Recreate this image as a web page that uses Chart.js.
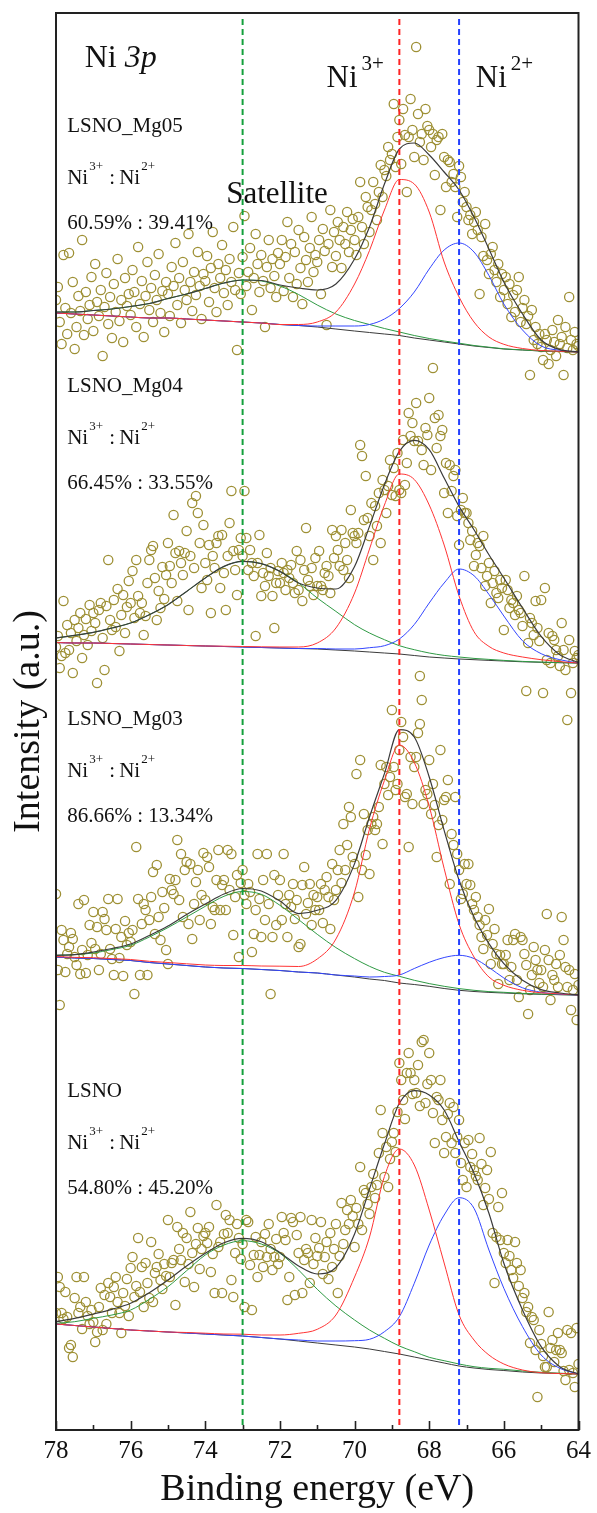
<!DOCTYPE html>
<html lang="en">
<head>
<meta charset="utf-8"/>
<title>Ni 3p XPS</title>
<script src="https://cdn.jsdelivr.net/npm/chart.js"></script>
<style>
  body { margin: 0; background: #fff; }
  canvas { display: block; }
</style>
</head>
<body>
<canvas id="chart" width="597" height="1513"></canvas>
<script>
// measured spectra, 0.05 eV steps from 78 eV down to 64 eV (counts above each curve's own zero)
const eStart = 78, eStep = 0.05;

const mg05Raw = [
  52, 65, 30, 8, 97, 44, 18, 99, 39, 70, 3, 25, 56, 41, 112, 17, 60, 33, 47, 75,
  21, 88, 50, 36, 62, -4, 45, 79, 28, 55, 14, 68, 40, 93, 31, 52, 10, 74, 46, 58,
  37, 82, 60, 25, 105, 48, 71, 15, 56, 90, 42, 64, 30, 77, 52, 98, 39, 61, 20, 70,
  58, 36, 85, 66, 109, 47, 74, 29, 90, 62, 52, 118, 70, 41, 80, 57, 100, 66, 33, 78,
  71, 96, 50, 84, 120, 64, 40, 88, 74, 107, 59, 82, 47, 93, 70, 125, 62, 2, 79, 58,
  95, 136, 66, 80, 104, 42, 74, 118, 88, 60, 97, 71, 25, 85, 112, 64, 93, 76, 55, 99,
  88, 112, 61, 95, 130, 74, 108, 55, 100, 68, 122, 84, 48, 115, 92, 70, 104, 135, 80, 97,
  90, 112, 58, 123, 101, 27, 108, 142, 85, 120, 96, 130, 112, 84, 125, 108, 140, 100, 122, 133,
  112, 97, 135, 170, 125, 108, 155, 145, 120, 142, 170, 148, 132, 160, 187, 155, 182, 176, 205, 192,
  198, 248, 185, 215, 232, 188, 243, 217, 160, 215, 253, 222, 195, 305, 238, 210, 218, 192, 243, 226,
  222, 205, 218, 177, 212, 215, 142, 218, 195, 165, 192, 190, 170, 178, 165, 135, 186, 175, 150, 160,
  145, 132, 137, 118, 130, 140, 122, 58, 115, 96, 128, 92, 78, 98, 105, 82, 70, 88, 55, 78,
  62, 75, 48, 68, 35, 57, 40, 62, 75, 30, 44, 52, 28, 36, -23, 42, 12, 25, 8, 18,
  5, -8, 18, 12, -12, 2, 22, 10, -4, 32, 8, 15, -23, 25, 4, 55, 12, 2, 20, 8,
  6
];

const mg04Raw = [
  16, 27, -5, 7, 62, 10, 38, 13, 30, -10, 43, 22, 35, 50, 5, 28, 44, 18, 58, 32,
  50, 40, -20, 53, 60, 25, -7, 57, 103, 43, 33, 63, 36, 74, 12, 48, 68, 30, 56, 82,
  60, 92, 45, 103, 67, 50, 60, 28, 47, 80, 103, 113, 117, 85, 43, 72, 55, 96, 64, 88,
  120, 97, 80, 148, 110, 62, 112, 100, 88, 110, 132, 53, 107, 160, 95, 167, 150, 120, 75, 138,
  100, 83, 118, 50, 107, 95, 120, 127, 75, 128, 90, 53, 107, 140, 172, 112, 93, 68, 113, 125,
  107, 172, 125, 93, 113, 100, 87, 27, 100, 128, 67, 90, 77, 110, 87, 95, 67, 35, 80, 92,
  80, 100, 90, 73, 93, 85, 98, 80, 70, 112, 73, 103, 62, 93, 135, 83, 77, 95, 68, 105,
  77, 112, 77, 73, 90, 97, 87, 70, 133, 105, 127, 113, 97, 133, 93, 120, 103, 85, 153, 130,
  127, 120, 130, 218, 207, 143, 187, 145, 127, 160, 103, 157, 137, 170, 120, 183, 173, 150, 177, 203,
  168, 195, 167, 210, 173, 170, 223, 178, 200, 250, 227, 240, 222, 260, 222, -13, 213, 198, 235, 228,
  265, 193, 295, 245, 215, 248, 227, 233, 170, 200, 150, 198, 172, 187, 193, 147, 118, 153, 165, 150,
  150, 140, 123, 132, 97, 108, 120, 117, 95, 127, 77, 87, 100, 60, 80, 92, 70, 65, 83, 75,
  33, 83, 73, 55, 63, 60, 48, 67, 53, 50, 37, 87, -28, 20, 45, 40, 28, 62, 35, 22,
  63, -30, 75, 3, 30, 0, 27, 23, 13, 7, -3, 40, 13, -7, -57, 23, -30, 0, 12, 5,
  8
];

const mg03Raw = [
  101, 25, -10, 65, 55, 23, 41, 48, 62, 56, 38, 30, 91, 21, 45, 95, 22, 40, 70, 52,
  83, 46, 68, 25, 41, 83, 76, 65, 96, 46, 36, 20, 66, 96, 37, 58, 19, 74, 50, 62,
  53, 65, 1, 148, 96, 20, 71, 91, 85, 20, 75, 98, 123, 61, 130, 78, 55, 103, 87, 45,
  31, 116, 105, 101, 115, 155, 95, 141, 78, 125, 133, 71, 131, 56, 91, 113, 125, 75, 100, 142,
  95, 138, 128, 71, 88, 85, 115, 145, 85, 110, 115, 85, 145, 105, 141, 60, 98, 120, 38, 112,
  125, 100, 91, 111, 103, 43, 61, 85, 141, 96, 58, 115, 75, 141, 91, 1, 58, 120, 70, 100,
  115, 75, 141, 91, 58, 100, 88, 111, 76, 95, 48, 51, 110, 128, 81, 92, 111, 70, 100, 85,
  98, 85, 111, 72, 105, 118, 98, 66, 131, 95, 105, 125, 145, 112, 171, 125, 150, 188, 178, 138,
  131, 221, 98, 235, 125, 181, 140, 165, 121, 171, 178, 165, 171, 188, 230, 151, 211, 228, 200, 218,
  285, 228, 205, 211, 245, 273, 258, 198, 201, 148, 238, 191, 228, 238, 262, 271, 295, 191, 205, 201,
  235, 181, 211, 190, 138, 170, 245, 175, 195, 198, 215, 111, 161, 150, 198, 141, 125, 96, 101, 131,
  111, 131, 110, 91, 85, 98, 78, 70, 58, 46, 75, 60, 86, 31, 51, 66, 41, 11, 40, 31,
  31, 40, 55, 15, 28, 55, 61, 15, -2, 58, 55, 41, 30, -19, 5, 20, 48, 35, 25, 12,
  25, 8, 45, 81, 35, -5, 20, 15, 31, 8, 40, 78, 55, 28, 8, 25, -15, 5, 21, -25,
  10
];

const lsnoRaw = [
  61, 97, 87, 61, 55, 82, 57, 26, 29, 17, 76, 97, 61, 67, 45, 97, 72, 58, 50, 64,
  52, 32, 42, 67, 86, 44, 79, 50, 91, 77, 61, 87, 97, 72, 61, 41, 81, 68, 95, 58,
  106, 117, 77, 88, 136, 82, 107, 67, 111, 91, 76, 132, 72, 101, 107, 120, 94, 85, 110, 98,
  154, 97, 111, 114, 69, 147, 125, 114, 141, 92, 136, 110, 162, 121, 87, 130, 146, 105, 125, 138,
  141, 131, 147, 102, 120, 81, 169, 127, 132, 81, 140, 159, 141, 154, 94, 77, 121, 150, 136, 115,
  130, 67, 154, 152, 109, 64, 119, 137, 97, 119, 132, 107, 140, 117, 150, 125, 104, 117, 135, 110,
  117, 157, 141, 134, 74, 97, 156, 152, 79, 139, 121, 157, 81, 114, 125, 121, 91, 154, 110, 136,
  118, 126, 152, 100, 117, 132, 95, 141, 107, 125, 150, 81, 118, 171, 130, 144, 164, 150, 174, 158,
  127, 166, 150, 207, 144, 184, 181, 170, 160, 187, 200, 176, 189, 221, 264, 241, 197, 227, 187, 215,
  232, 241, 222, 262, 311, 294, 274, 255, 301, 321, 301, 280, 294, 281, 309, 268, 332, 334, 271, 290,
  321, 294, 261, 231, 277, 274, 294, 254, 221, 237, 260, 271, 231, 267, 221, 237, 254, 211, 194, 231,
  187, 234, 207, 220, 204, 198, 194, 236, 210, 169, 186, 204, 175, 222, 141, 91, 137, 167, 134, 181,
  121, 111, 134, 118, 104, 96, 132, 111, 88, 104, 76, 81, 62, 67, 31, 57, 54, 24, -23, 44,
  30, 18, 7, 7, 62, 26, 34, 12, 24, 41, 24, 21, 3, -6, 44, 4, 41, 1, -13, 46,
  10
];

// peak fits on a coarser energy grid: background, then satellite / Ni3+ / Ni2+ above background, and the envelope
const fitE = [78, 77.5, 77, 76.5, 76, 75.5, 75, 74.5, 74, 73.5, 73, 72.5, 72, 71.5, 71, 70.5,
              70, 69.6, 69.2, 68.8, 68.4, 68, 67.6, 67.2, 66.8, 66.4, 66, 65.5, 65, 64.5, 64];

const mg05Bg  = [39, 38, 37, 36, 35, 34, 34, 33, 32, 31, 30, 29, 27.5, 26.5, 25, 23, 21, 19.5, 18, 16.5, 14, 12, 10, 8, 6, 4.5, 3, 2, 1, 0.5, 0];
const mg05Sat = [1, 2, 4.5, 7, 10.5, 14.5, 19.5, 25, 31.5, 38, 42, 42, 38.5, 31, 22, 15, 10.5, 8, 5.5, 3.5, 2.5, 1.5, 1, 0.8, 0.5, 0.3, 0.2, 0.1, 0, 0, 0];
const mg05Ni3 = [0, 0, 0, 0, 0, 0, 0, 0, 0, 0, 0, 0, 0, 1, 5, 17, 47, 82, 124, 156, 154, 128, 80, 47, 24, 10.5, 4.7, 1.5, 0.5, 0.2, 0];
const mg05Ni2 = [0, 0, 0, 0, 0, 0, 0, 0, 0, 0, 0, 0, 0, 0, 1, 3, 5, 8, 15, 27, 46, 71, 92, 101, 94, 72, 45, 20, 5, 1.2, 0];
const mg05Env = [40, 40, 41.5, 43, 45.5, 48.5, 53.5, 58, 63.5, 69, 72, 71.5, 67, 64, 62, 68, 93, 125, 168, 203, 209, 197, 180, 162, 135, 103, 70, 38, 12, 2.4, 0];

const mg04Bg  = [20.5, 20, 20, 19.5, 19, 18.5, 18, 17.5, 17, 16.5, 16, 15.5, 15, 14.5, 14, 13, 12, 11, 10, 9, 7.5, 6, 5, 4, 3.3, 2.6, 2, 1.2, 0.7, 0.3, 0];
const mg04Sat = [4.5, 7.6, 10.6, 15.5, 21, 29.8, 40.3, 54, 68, 80, 85.6, 83.8, 76.6, 65.5, 51, 38.6, 26.3, 19, 13.3, 8.3, 5.8, 4, 2.6, 2, 1.3, 1, 0.6, 0.4, 0.2, 0.1, 0];
const mg04Ni3 = [0, 0, 0, 0, 0, 0, 0, 0, 0, 0.3, 0.5, 0.7, 1, 1.5, 6, 22, 58, 103, 148, 180, 176, 152, 113, 63, 28, 14, 8, 4.8, 2.6, 1, 0];
const mg04Ni2 = [0, 0, 0, 0, 0, 0, 0, 0, 0, 0, 0, 0, 0, 0, 0.5, 1, 2, 4.3, 7.3, 15, 31, 54, 75, 90, 84, 66, 45, 21, 8.6, 3, 0];
const mg04Env = [25, 27.6, 30.6, 35, 40, 48.3, 58.3, 71.6, 85, 96.6, 101.6, 99.3, 91.6, 80, 75, 74, 96.6, 136.6, 178.3, 211.6, 222.6, 213.3, 185, 156.6, 133.3, 108.3, 85, 55, 26.6, 8.3, 0.6];

const mg03Bg  = [38, 37, 36.5, 35.5, 34.5, 32.5, 31, 29.5, 28, 27, 26.5, 25.5, 24.5, 23, 22, 20, 18, 16, 14.5, 12, 10.5, 8.7, 6.5, 4.7, 3.5, 2.6, 2, 1.2, 0.7, 0.3, 0];
const mg03Sat = [1.7, 3.4, 5.5, 10, 15.2, 25.5, 36.4, 48.5, 60.7, 71.7, 77, 75.2, 65.2, 52.4, 38.7, 27.4, 18.4, 12.7, 8.2, 6.7, 4.2, 2.7, 2.2, 1.7, 1.2, 0.8, 0.7, 0.4, 0.3, 0.1, 0];
const mg03Ni3 = [0.5, 0.6, 0.8, 0.9, 1, 1.2, 1.5, 1.7, 2, 2.5, 3, 3.5, 4.3, 5.5, 14, 36, 85, 150, 200, 238, 222, 180, 120, 66, 34.5, 15.4, 7.7, 3.5, 1.5, 0.8, 0];
const mg03Ni2 = [0, 0, 0, 0, 0, 0, 0, 0, 0, 0, 0, 0, 0, 0, 0, 0, 1, 2, 4, 8, 16, 24, 31, 35, 33, 25, 15, 6, 2, 0.5, 0];
const mg03Env = [39.7, 40.4, 43, 46.5, 51, 59.5, 69, 80.5, 91, 101, 106.5, 104, 94, 81.4, 84.7, 94.7, 131.4, 178, 221.4, 265.4, 258, 218, 164.7, 114.7, 78, 51.4, 31.4, 14.7, 5.4, 2, 0];

const lsnoBg  = [50, 48.5, 47, 45.5, 44, 43, 42, 41, 40, 39, 38, 36.5, 35, 33, 31, 29, 27, 25, 22.5, 20, 17, 14, 11, 8, 6, 4.5, 3.5, 2, 1, 0.5, 0];
const lsnoSat = [0.7, 3.8, 8.7, 13.5, 20, 31.7, 45.3, 62.3, 79, 90, 95.3, 93.5, 85.7, 71, 53.7, 39, 27, 19, 13.2, 8, 5.3, 2.7, 2.3, 2, 1.3, 1.2, 1.2, 1, 0.7, 0.3, 0];
const lsnoNi3 = [0, 0, 0, 0, 0, 0, 0, 0.5, 0.8, 1, 1.8, 2.5, 4, 7.7, 13.7, 30, 70, 112, 175, 205, 192, 150, 100, 51, 28, 14.5, 6.5, 2, 0.3, 0, 0];
const lsnoNi2 = [0, 0, 0, 0, 0, 0, 0, 0, 0, 0, 0, 0, 0, 1, 2, 4, 6.3, 9.7, 19.8, 37.3, 73.7, 115, 148, 168.3, 159.7, 119.5, 82.2, 45.3, 18, 5.2, 0];
const lsnoEnv = [52.3, 55.7, 60, 64.7, 70.7, 81.3, 94, 108, 120.7, 131.3, 135.7, 132.3, 121.3, 108, 100, 106.5, 140, 185, 230, 270.7, 283.3, 279, 264, 232.3, 200.7, 160.7, 110.7, 64, 27.3, 7.3, 0];

// vertical stacking of the four samples (a.u.)
const stackOffsets = [1078, 767, 435, 56];

const sampleNames = ['LSNO_Mg05', 'LSNO_Mg04', 'LSNO_Mg03', 'LSNO'];
const sampleRatios = ['60.59% : 39.41%', '66.45% : 33.55%', '86.66% : 13.34%', '54.80% : 45.20%'];

// reference energies: satellite, Ni3+, Ni2+
const refEnergies = [73.0, 68.8, 67.2];

const serif = "'Liberation Serif', 'Times New Roman', serif";
const olive = '#9e9035';
const refColors = ['#13a03c', '#ff2424', '#2440ff'];

const yMax = 1417;

function curve(vals, bg, off) {
  return fitE.map((e, i) => ({ x: e, y: off + vals[i] + (bg ? bg[i] : 0) }));
}

function lineSet(data, color, order, width) {
  return {
    data, borderColor: color, borderWidth: width || 1, pointRadius: 0,
    cubicInterpolationMode: 'monotone', fill: false, order
  };
}

function spectrumSets(raw, bg, sat, ni3, ni2, env, off) {
  const pts = raw.map((v, i) => ({ x: eStart - i * eStep, y: off + v }));
  return [
    {
      data: pts, showLine: false, pointRadius: 4.6, pointBorderWidth: 1.3,
      pointBorderColor: olive, pointBackgroundColor: 'rgba(0,0,0,0)', order: 10
    },
    lineSet(curve(bg, null, off), '#3b3b3b', 6),
    lineSet(curve(sat, bg, off), '#2f9a44', 5),
    lineSet(curve(ni2, bg, off), '#3346ff', 4),
    lineSet(curve(ni3, bg, off), '#ff3434', 3),
    lineSet(curve(env, null, off), '#3b3b3b', 2, 1.2)
  ];
}

const datasets = [
  ...spectrumSets(mg05Raw, mg05Bg, mg05Sat, mg05Ni3, mg05Ni2, mg05Env, stackOffsets[0]),
  ...spectrumSets(mg04Raw, mg04Bg, mg04Sat, mg04Ni3, mg04Ni2, mg04Env, stackOffsets[1]),
  ...spectrumSets(mg03Raw, mg03Bg, mg03Sat, mg03Ni3, mg03Ni2, mg03Env, stackOffsets[2]),
  ...spectrumSets(lsnoRaw, lsnoBg, lsnoSat, lsnoNi3, lsnoNi2, lsnoEnv, stackOffsets[3])
];

refEnergies.forEach((e, i) => {
  datasets.push({
    data: [{ x: e, y: 5 }, { x: e, y: yMax - 5 }],
    borderColor: refColors[i], borderWidth: 2, borderDash: [6, 4],
    pointRadius: 0, order: 1
  });
});

// text blocks are anchored in data space: [energy, intensity]
const blockAnchor = [[77.7, 1298], [77.7, 1038], [77.7, 705], [77.7, 333]];

function supText(ctx, base, sup, x, y, size, supSize, rise, gap) {
  ctx.font = size + 'px ' + serif;
  ctx.fillText(base, x, y);
  const w = ctx.measureText(base).width;
  ctx.font = supSize + 'px ' + serif;
  ctx.fillText(sup, x + w + gap, y - rise);
}

const decorations = {
  id: 'decorations',
  afterDatasetsDraw(chart) {
    const { ctx, chartArea: a, scales: { x, y } } = chart;
    ctx.save();
    ctx.strokeStyle = '#222';
    ctx.lineWidth = 2;
    ctx.strokeRect(a.left, a.top, a.right - a.left, a.bottom - a.top);

    // inward ticks along the energy axis
    ctx.lineWidth = 1.6;
    for (let e = 64; e <= 78; e++) {
      const px = Math.round(x.getPixelForValue(e)) + 0.5;
      const len = e % 2 === 0 ? 9 : 5;
      ctx.beginPath();
      ctx.moveTo(px, a.bottom);
      ctx.lineTo(px, a.bottom - len);
      ctx.stroke();
    }

    ctx.fillStyle = '#111';
    ctx.textBaseline = 'alphabetic';
    ctx.textAlign = 'left';

    // panel title
    let px = x.getPixelForValue(77.23), py = y.getPixelForValue(1363);
    ctx.font = '32px ' + serif;
    ctx.fillText('Ni ', px, py);
    const w = ctx.measureText('Ni ').width;
    ctx.font = 'italic 32px ' + serif;
    ctx.fillText('3p', px + w, py);

    // peak labels
    ctx.font = '31px ' + serif;
    ctx.fillText('Satellite', x.getPixelForValue(73.44), y.getPixelForValue(1227));
    supText(ctx, 'Ni', '3+', x.getPixelForValue(70.75), y.getPixelForValue(1343), 31, 21, 17, 4);
    supText(ctx, 'Ni', '2+', x.getPixelForValue(66.75), y.getPixelForValue(1343), 31, 21, 17, 4);

    // sample name and Ni3+ : Ni2+ ratio
    blockAnchor.forEach(([e, v], i) => {
      const bx = x.getPixelForValue(e), by = y.getPixelForValue(v);
      ctx.font = '21px ' + serif;
      ctx.fillText(sampleNames[i], bx, by);
      const ry = by + 52;
      supText(ctx, 'Ni', '3+', bx, ry, 21, 13, 14, 1);
      ctx.font = '21px ' + serif;
      ctx.fillText(':', bx + 42, ry);
      supText(ctx, 'Ni', '2+', bx + 52, ry, 21, 13, 14, 1);
      ctx.font = '21px ' + serif;
      ctx.fillText(sampleRatios[i], bx, by + 97);
    });
    ctx.restore();
  }
};

new Chart(document.getElementById('chart').getContext('2d'), {
  type: 'line',
  data: { datasets },
  options: {
    responsive: false,
    animation: false,
    devicePixelRatio: 1,
    layout: { padding: { top: 13, right: 15, left: 0, bottom: 0 } },
    plugins: { legend: { display: false }, tooltip: { enabled: false } },
    scales: {
      x: {
        type: 'linear', min: 64, max: 78, reverse: true,
        grid: { display: false, drawTicks: false },
        border: { display: false },
        ticks: { stepSize: 2, padding: 6, maxRotation: 0, color: '#111', font: { family: serif, size: 25 } },
        title: { display: true, text: 'Binding energy (eV)', color: '#111', font: { family: serif, size: 38 }, padding: { top: 0, bottom: 0 } },
        afterFit(s) { s.height = 83; }
      },
      y: {
        type: 'linear', min: 0, max: yMax,
        grid: { display: false, drawTicks: false },
        border: { display: false },
        ticks: { display: false },
        title: { display: true, text: 'Intensity (a.u.)', color: '#111', font: { family: serif, size: 38 }, padding: { top: 6, bottom: 0 } },
        afterFit(s) { s.width = 56; }
      }
    }
  },
  plugins: [decorations]
});
</script>
</body>
</html>
